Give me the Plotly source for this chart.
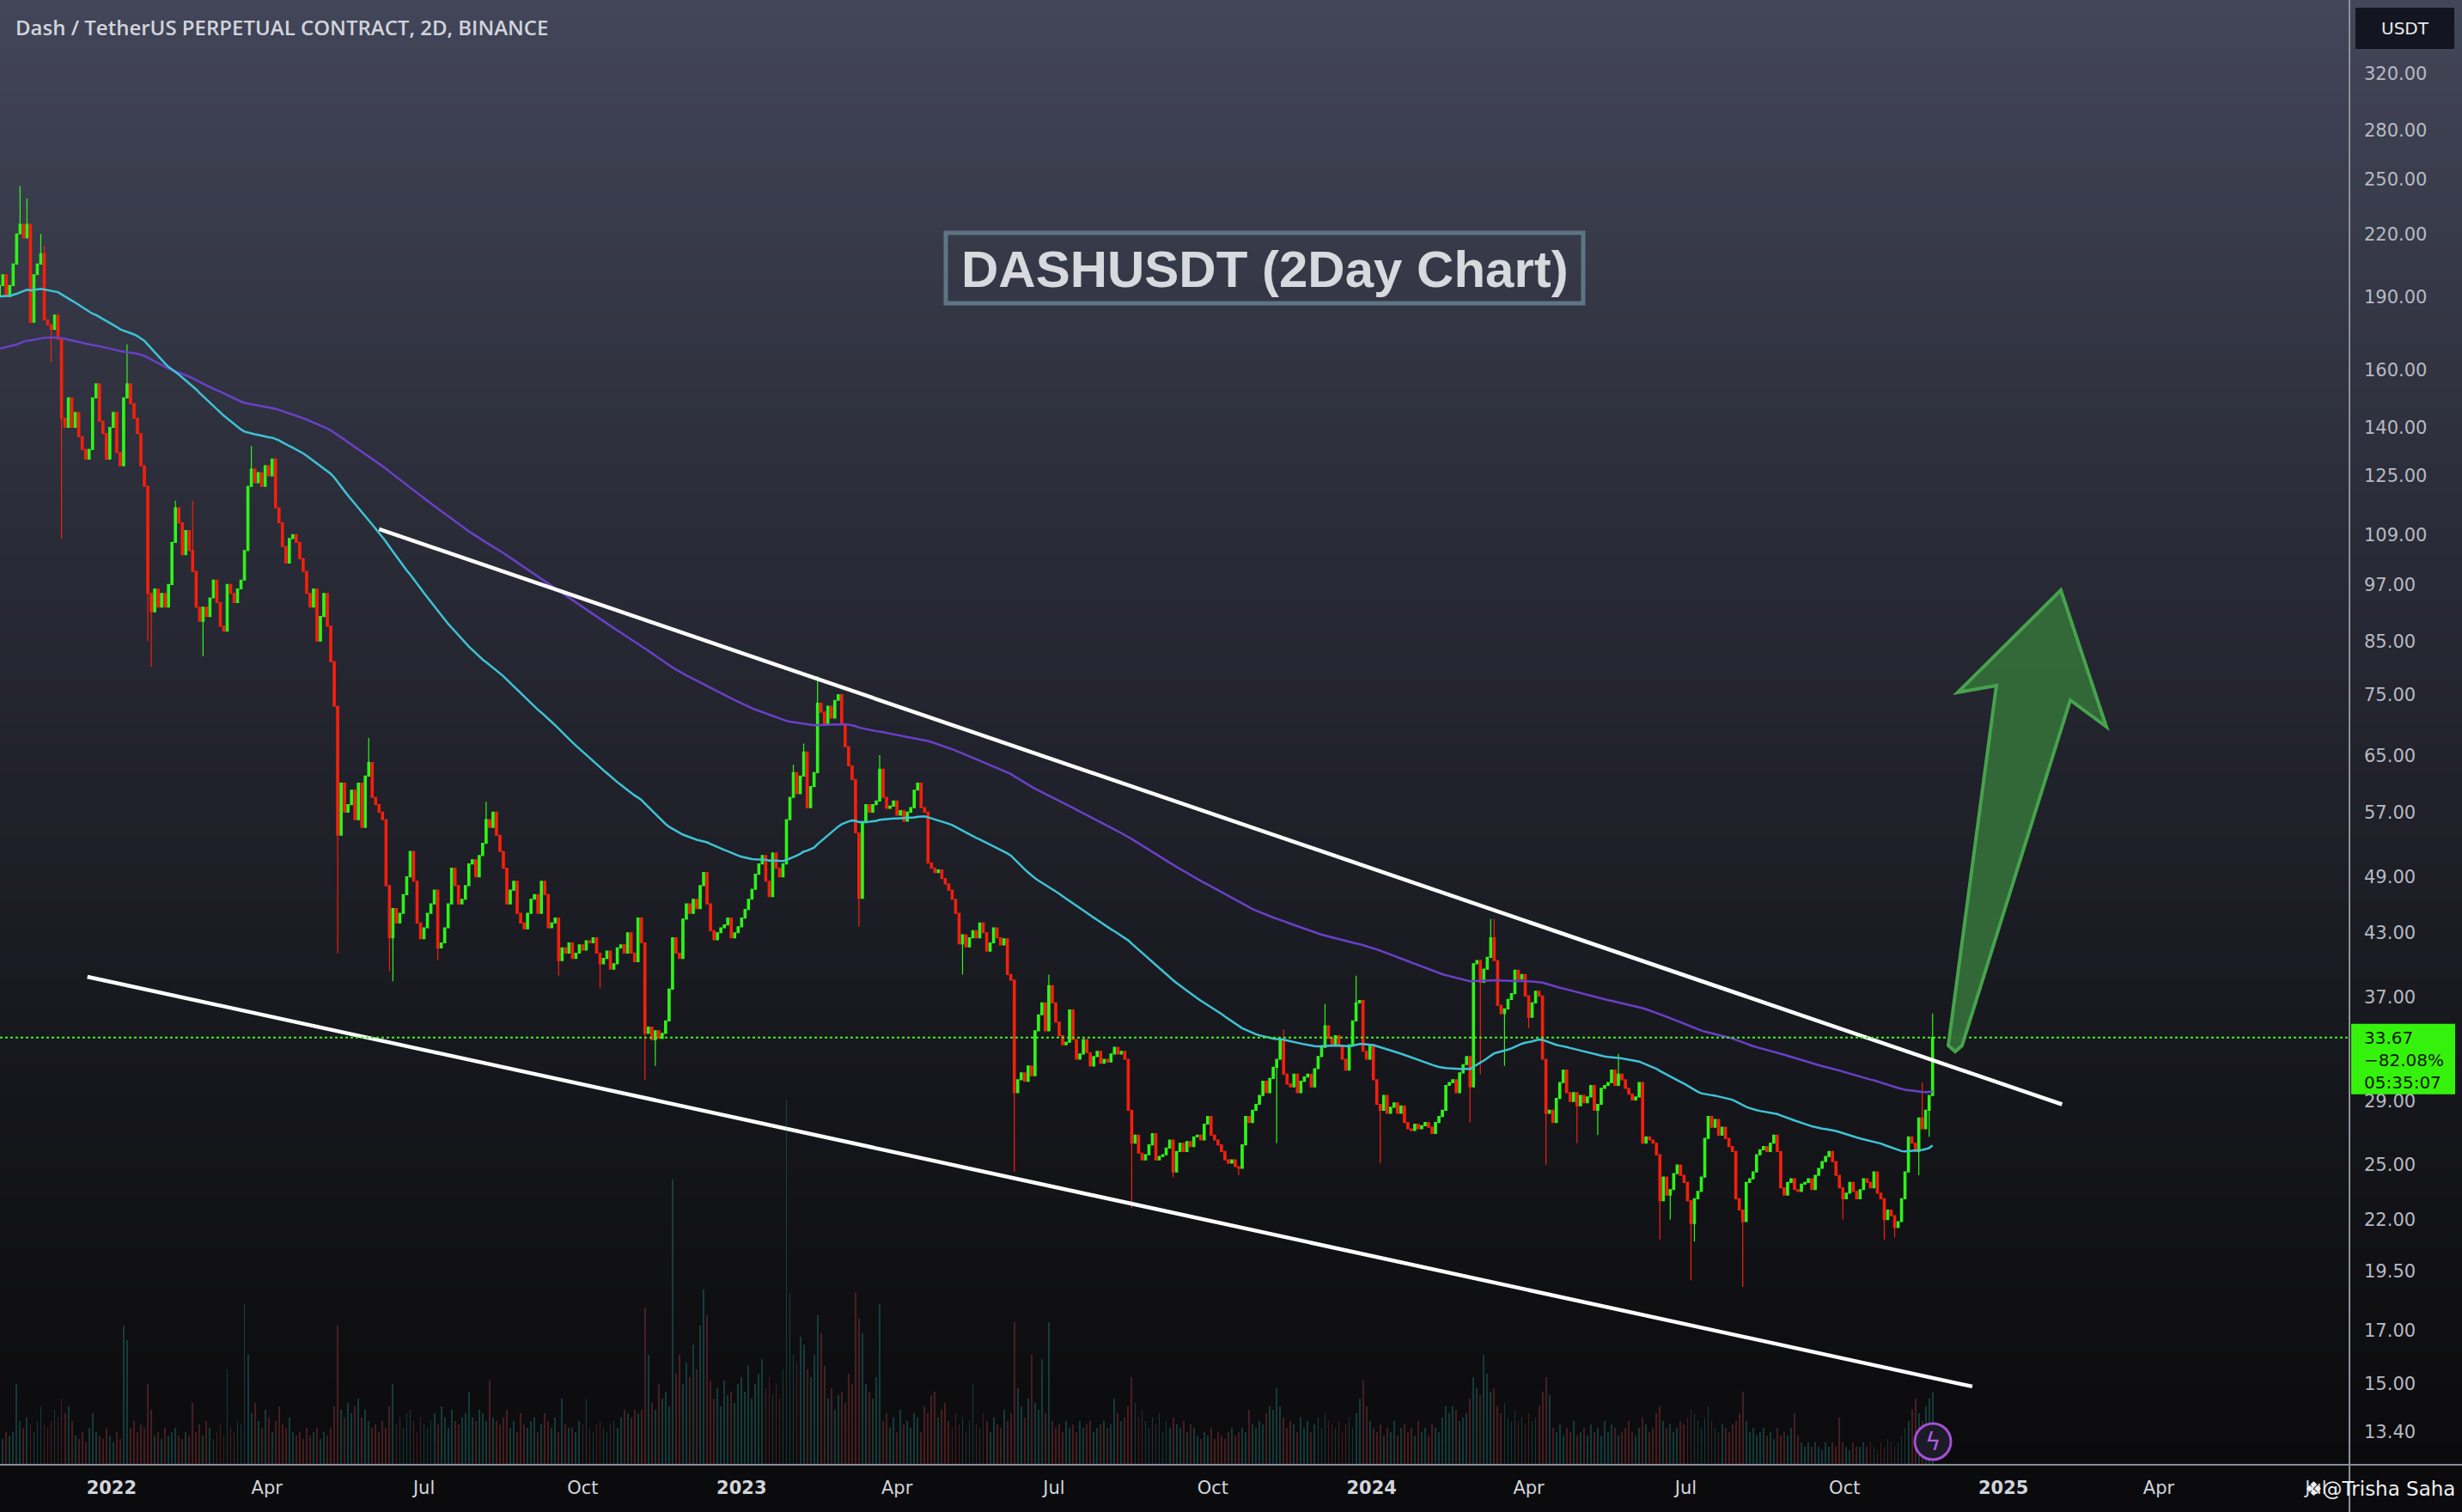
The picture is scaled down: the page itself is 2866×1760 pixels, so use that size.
import math
import plotly.graph_objects as go
import pandas as pd

# ---------------- data ----------------
START_DATE = "2021-10-28"          # first 2-day candle
FIRST_OPEN = 190.0

CLOSE = [
    195,200,190,195,205,220,225,218,225,179,200,205,210,180,178,176,182,172,143,140,
    150,140,145,137,133,130,133,150,155,142,138,130,140,145,132,128,150,155,148,143,
    138,128,122,95,91,96,92,95,92,97,107,116,112,104,110,105,100,92,89,92,
    90,94,98,93,88,87,97,95,93,96,98,105,122,127,123,126,122,128,125,130,
    116,112,106,102,108,109,107,103,100,95,92,96,85,90,95,88,81,73,54,61,
    57,58,60,56,61,55,62,64,59,58,57,56,48,42.5,45.5,44,45,47,49,52,
    48.5,44,42.4,43.5,45,46,47.5,41.5,42,43.5,46,50,48,46,46.5,48,50.5,51,49,51.5,
    53,56,55,57,54,52,50,46,47.5,48.5,45,44,43.4,45,46.5,47,45,48.5,47,43.5,
    44,44.5,40.3,41.5,41,42,40.5,41,41.8,41.3,42.2,42,42.5,41,40,40.5,41.2,39.5,40,41.5,
    41.8,41,43,41,40.2,44.5,42,34,34.5,33.5,34.2,33.6,34,35,37.7,42.5,41,40.5,44.4,46,
    45,46.5,45.5,48,49.5,46,43.2,42.3,43,43.5,43.8,44.5,42.5,43,43.6,44.5,45.4,46.5,47.6,49.3,
    50.5,51.5,48.5,46.8,51.8,50,49,50.5,56,59,62.5,59.5,62,65.6,57.6,60.5,62.5,73.5,72,70,
    73,71,74,75,70,66.4,63.5,61.5,54.3,46.6,55.6,58,57,58,58.5,63,59,57.5,57.8,58.5,
    56.6,57.2,55.8,57,57.6,60,61,57.6,57,50.6,50,49.5,49.8,48.8,48.2,47.5,46.5,45,41.9,42.8,
    41.6,42.5,43.2,42.5,44,43,41.2,42,43.5,42.5,41.8,42.4,39,38.5,29.6,30.5,31,30.4,31.5,30.8,
    34.2,35.5,36.5,34.2,38,36.5,34.9,33.8,33.1,33.3,35.9,33.5,32,32.4,33.5,32.5,31.5,32.2,32.6,31.7,
    32,31.8,32.4,32.9,32.4,32.6,32,28.4,26.3,26.8,25.7,25.3,25.6,26.2,26.9,25.3,25.5,25.6,26,26.5,
    24.6,25.8,26.3,25.8,26.4,26.1,26.7,26.8,26.5,27.5,28,26.8,26.5,26.2,25.8,25.3,25.1,25.3,24.9,24.8,
    26.2,28,27.6,28.4,28.8,29.4,30.4,29.6,30.6,31.4,32,33.5,30.9,30.2,30,30.9,29.6,30.4,30.7,30.9,
    30,31.3,32.2,32.9,34.6,33.6,33.1,33.8,33,32,31.2,33.1,35,36.5,36.7,32.6,32,33.1,30.5,28.8,
    28.4,29.4,28.2,28.6,28.9,28.2,28.7,27.6,27.2,27.1,27.5,27.2,27.4,27.6,27.3,26.9,27.6,28,28.4,30.1,
    30.3,30.5,29.6,31,31.6,32.2,30,40,40.3,38.3,39.5,40.6,42.5,40.3,36.3,35.6,36,36.8,37.3,39.4,
    38.6,39,37.1,35.3,36.5,37.5,37.1,32,28.2,28.4,27.6,29.2,30.3,31.2,29.6,29,29.6,28.7,29.4,28.9,
    29.3,30.1,28.4,28.8,29.9,30.1,30.3,31.2,30.1,30.9,30.5,29.9,29.5,29.1,29.3,30.3,26.3,26.7,26.5,26.3,
    25.6,23,24.3,23.3,23.6,24.5,25,24.4,24,23,21.8,23.1,23.5,24.3,26.6,28,27.3,27.8,26.8,27.3,
    26.6,26.1,25.8,23.1,22.5,21.9,24,24.2,24.6,25.6,25.9,26.1,25.8,26.3,26.8,25.8,23.7,23.3,24,24.2,
    23.6,23.5,23.9,24,24.2,23.6,24.4,24.8,25.2,25.5,25.8,25.2,24.4,23.7,23.1,23.4,24,23.5,23.1,23.6,
    24.2,24,23.7,24.6,23.4,23.1,22,22.5,22.2,21.6,21.9,23.1,24.6,26.7,26.3,25.8,27.9,27.2,28.4,29.4,33.67,
]

# notable wick extremes: candle index -> (high, low)
WICKS = {
    6: (246, None), 8: (239, None), 12: (220, None), 13: (214, None), 15: (None, 163),
    18: (None, 108), 37: (170, None), 43: (None, 85), 44: (None, 80), 51: (118, None),
    56: (118, None), 59: (None, 82), 73: (134, None), 98: (None, 41), 107: (67.8, None),
    113: (None, 39.3), 114: (None, 38.4), 127: (None, 40.3), 141: (58.4, None),
    162: (None, 38.9), 174: (None, 37.8), 187: (None, 30.5), 190: (None, 31.5),
    230: (63.7, None), 233: (66.9, None), 237: (78.3, None), 249: (None, 43.6),
    255: (65.1, None), 279: (None, 39.0), 294: (None, 24.6), 304: (39.0, None),
    328: (None, 22.6), 340: (None, 24.3), 359: (None, 24.4), 370: (None, 26.3),
    372: (34.3, None), 384: (36.4, None), 393: (38.9, None), 400: (None, 25.1),
    426: (None, 27.6), 429: (None, 30.9), 432: (44.4, None), 433: (44.4, None),
    436: (None, 31.5), 443: (None, 34.4), 448: (None, 25.0), 457: (None, 26.3),
    463: (None, 26.8), 469: (32.4, None), 481: (None, 21.0), 484: (None, 22.0),
    490: (None, 19.1), 491: (None, 20.9), 505: (None, 18.8), 534: (None, 22.0),
    546: (None, 21.0), 549: (None, 21.1), 556: (None, 24.4), 557: (30.3, None),
    559: (None, 26.7), 560: (35.6, None),
}

VOLUME = [
    8,7,9,8,9,22,12,10,13,11,9,12,16,11,10,12,15,13,18,14,
    16,12,8,7,9,6,10,14,9,8,7,10,8,6,9,7,38,34,10,12,
    9,11,10,22,15,8,9,7,10,8,9,10,8,7,9,8,17,9,11,8,
    12,10,7,9,11,8,26,10,9,12,11,44,30,14,17,12,10,15,13,9,
    12,16,11,10,13,9,8,9,7,10,8,9,10,7,9,8,10,16,38,15,
    13,17,14,16,18,13,15,12,10,11,9,12,10,16,22,11,13,10,14,15,
    12,9,13,11,10,12,14,11,16,13,10,15,12,11,13,14,20,13,12,15,
    14,12,23,13,12,11,13,15,10,12,9,14,11,10,12,13,9,11,14,12,
    10,13,9,18,11,10,10,9,12,11,18,10,9,11,12,10,9,11,12,10,
    13,15,14,13,15,14,15,43,30,17,15,22,18,20,16,78,25,30,22,28,
    24,33,26,38,48,41,23,18,21,16,23,19,20,17,22,24,20,27,18,22,
    25,29,21,24,19,22,18,26,100,47,30,28,35,33,26,24,30,41,36,27,
    18,21,15,19,20,17,25,22,47,40,36,22,20,18,24,44,12,14,10,13,
    9,15,11,12,10,14,13,9,16,14,19,20,13,15,17,12,10,14,11,13,
    9,12,22,11,10,14,12,9,13,11,10,15,12,14,39,21,16,13,18,30,
    17,15,29,14,39,12,10,11,9,12,10,11,9,12,10,11,12,9,10,11,
    12,10,11,18,14,12,13,16,24,17,13,15,12,10,13,11,14,9,12,10,
    13,11,10,12,9,11,10,8,7,9,8,10,7,9,8,7,9,10,8,9,
    10,9,15,11,10,12,11,14,16,15,21,16,13,10,12,11,9,13,10,12,
    9,11,13,10,14,12,11,10,12,9,11,13,10,14,18,23,16,12,10,9,
    11,8,10,9,12,8,10,11,9,10,8,12,9,10,8,11,10,9,13,16,
    14,16,15,12,13,14,18,24,21,19,30,25,20,21,16,14,17,13,12,15,
    12,13,11,14,12,13,16,20,24,19,10,9,11,8,10,9,12,8,9,10,
    8,11,9,10,8,12,9,11,10,8,9,10,12,9,8,10,13,11,9,10,
    14,16,12,10,11,9,10,12,11,13,15,14,12,10,13,16,12,10,9,11,
    10,9,11,12,14,20,12,9,10,8,9,10,8,9,7,10,8,9,8,10,
    14,8,6,5,6,5,6,5,4,6,5,6,5,13,6,5,4,6,5,5,
    6,5,6,5,4,6,5,7,6,5,6,8,10,12,15,18,14,12,16,18,20,
]

EMA_FAST_LEN, EMA_FAST_SEED = 100, 190.0
EMA_SLOW_LEN, EMA_SLOW_SEED = 200, 168.0

LAST_PRICE = 33.67
LAST_CHANGE = "\u221282.08%"
COUNTDOWN = "05:35:07"

UPPER_LINE_DATES = ["2022-06-05", "2025-02-04"]
UPPER_LINE_PRICES = [110.4, 28.8]
LOWER_LINE_DATES = ["2021-12-18", "2024-12-14"]
LOWER_LINE_PRICES = [38.8, 14.9]

Y_TICKS = [320, 280, 250, 220, 190, 160, 140, 125, 109, 97, 85, 75, 65, 57, 49, 43, 37,
           29, 25, 22, 19.5, 17, 15, 13.4]
X_TICK_DATES = ["2022-01-01", "2022-04-01", "2022-07-01", "2022-10-01",
                "2023-01-01", "2023-04-01", "2023-07-01", "2023-10-01",
                "2024-01-01", "2024-04-01", "2024-07-01", "2024-10-01",
                "2025-01-01", "2025-04-01", "2025-07-01"]
X_TICK_LABELS = ["<b>2022</b>", "Apr", "Jul", "Oct", "<b>2023</b>", "Apr", "Jul", "Oct",
                 "<b>2024</b>", "Apr", "Jul", "Oct", "<b>2025</b>", "Apr", "Jul"]

TITLE = "Dash / TetherUS PERPETUAL CONTRACT, 2D, BINANCE"
BOX_TITLE = "DASHUSDT (2Day Chart)"
AUTHOR = "\u2756@Trisha Saha"

if not (len(CLOSE) == len(VOLUME)):
    raise SystemExit(f"length mismatch close={len(CLOSE)} volume={len(VOLUME)}")

# ---------------- derived series ----------------
dates = pd.date_range(START_DATE, periods=len(CLOSE), freq="2D")
opens = [FIRST_OPEN] + CLOSE[:-1]
highs = [max(o, c) for o, c in zip(opens, CLOSE)]
lows = [min(o, c) for o, c in zip(opens, CLOSE)]
for k, (h, l) in WICKS.items():
    if h is not None:
        highs[k] = max(highs[k], h)
    if l is not None:
        lows[k] = min(lows[k], l)


def ema(values, length, seed):
    a = 2.0 / (length + 1)
    out, e = [], seed
    for v in values:
        e = a * v + (1 - a) * e
        out.append(e)
    return out


ema_fast = ema(CLOSE, EMA_FAST_LEN, EMA_FAST_SEED)
ema_slow = ema(CLOSE, EMA_SLOW_LEN, EMA_SLOW_SEED)

# ---------------- layout geometry (pixels) ----------------
W, H = 2866, 1760
PLOT_W, PLOT_H = 2735, 1705
Y_LO, Y_HI = 1.0938, 2.5797          # log10 price range
X_RANGE = ["2021-10-28 09:00", "2025-07-20 12:00"]


def px(x):
    return x / PLOT_W


def py(y):
    return 1 - y / PLOT_H


price_y_paper = (math.log10(LAST_PRICE) - Y_LO) / (Y_HI - Y_LO)
price_y_px = (1 - price_y_paper) * PLOT_H

GREEN = "#2ff51a"
RED = "#f5200c"

fig = go.Figure()

# volume
vol_colors = ["rgba(38,166,154,0.30)" if c >= o else "rgba(239,83,80,0.26)"
              for o, c in zip(opens, CLOSE)]
fig.add_trace(go.Bar(x=dates, y=VOLUME, yaxis="y2", marker_color=vol_colors,
                     marker_line_width=0, width=2 * 86400000 * 0.45,
                     hoverinfo="skip", showlegend=False))

# moving averages
fig.add_trace(go.Scatter(x=dates, y=ema_slow, mode="lines",
                         line=dict(color="#6a40c8", width=2.5), hoverinfo="skip",
                         showlegend=False))
fig.add_trace(go.Scatter(x=dates, y=ema_fast, mode="lines",
                         line=dict(color="#3ec3d6", width=2.5), hoverinfo="skip",
                         showlegend=False))

# candles
fig.add_trace(go.Candlestick(
    x=dates, open=opens, high=highs, low=lows, close=CLOSE,
    increasing=dict(line=dict(color=GREEN, width=1.2), fillcolor=GREEN),
    decreasing=dict(line=dict(color=RED, width=1.2), fillcolor=RED),
    whiskerwidth=0, showlegend=False, hoverinfo="skip"))

# trend lines
fig.add_trace(go.Scatter(x=UPPER_LINE_DATES, y=UPPER_LINE_PRICES, mode="lines",
                         line=dict(color="#ffffff", width=4.5), hoverinfo="skip",
                         showlegend=False))
fig.add_trace(go.Scatter(x=LOWER_LINE_DATES, y=LOWER_LINE_PRICES, mode="lines",
                         line=dict(color="#ffffff", width=4.5), hoverinfo="skip",
                         showlegend=False))

# last price dotted line
fig.add_trace(go.Scatter(x=X_RANGE, y=[LAST_PRICE, LAST_PRICE], mode="lines",
                         line=dict(color="#3cf51a", width=2, dash="dot"),
                         hoverinfo="skip", showlegend=False))

shapes = []
# background gradient bands
stops = [(0, (67, 70, 88)), (600, (42, 44, 56)), (1180, (24, 25, 31)), (1705, (11, 11, 13))]


def col_at(y):
    for (y0, c0), (y1, c1) in zip(stops[:-1], stops[1:]):
        if y0 <= y <= y1:
            t = (y - y0) / (y1 - y0)
            return "rgb(%d,%d,%d)" % tuple(round(a + (b - a) * t) for a, b in zip(c0, c1))
    return "rgb(11,11,13)"


band = 15
for y0 in range(0, PLOT_H, band):
    y1 = min(y0 + band + 1, PLOT_H)
    shapes.append(dict(type="rect", xref="paper", yref="paper", x0=0, x1=px(W),
                       y0=py(y1), y1=py(y0), fillcolor=col_at(y0 + band / 2),
                       line=dict(width=0), layer="below"))

# axis separator lines
shapes.append(dict(type="line", xref="paper", yref="paper", x0=px(2735), x1=px(2735),
                   y0=py(H), y1=py(0), line=dict(color="#8d9099", width=2)))
shapes.append(dict(type="line", xref="paper", yref="paper", x0=0, x1=px(W),
                   y0=py(1705), y1=py(1705), line=dict(color="#8d9099", width=2)))

# title box border
shapes.append(dict(type="rect", xref="paper", yref="paper", x0=px(1101), x1=px(1843),
                   y0=py(353), y1=py(271), line=dict(color="#5e7585", width=5),
                   fillcolor="rgba(0,0,0,0)"))

# arrow
arrow_pts = [(2399, 687), (2452, 846), (2410, 815), (2284, 1217), (2276, 1224),
             (2268, 1217), (2324, 798), (2279, 806)]
path = "M " + " L ".join(f"{px(x):.5f},{py(y):.5f}" for x, y in arrow_pts) + " Z"
shapes.append(dict(type="path", xref="paper", yref="paper", path=path,
                   fillcolor="rgba(52,110,58,0.92)", line=dict(color="#46a34c", width=4)))

# last price label box
shapes.append(dict(type="rect", xref="paper", yref="paper", x0=px(2737), x1=px(2858),
                   y0=py(price_y_px + 66), y1=py(price_y_px - 16),
                   fillcolor="#35f20c", line=dict(width=0)))
# USDT box
shapes.append(dict(type="rect", xref="paper", yref="paper", x0=px(2742), x1=px(2857),
                   y0=py(57), y1=py(9), fillcolor="#131620", line=dict(width=0)))
# lightning badge
shapes.append(dict(type="circle", xref="paper", yref="paper", x0=px(2229), x1=px(2271),
                   y0=py(1699), y1=py(1657), fillcolor="#1b1c28",
                   line=dict(color="#a64fd6", width=3)))

annotations = [
    dict(text=TITLE, xref="paper", yref="paper", x=px(16), y=py(31), xanchor="left",
         yanchor="middle", showarrow=False,
         font=dict(family="Open Sans", size=24, color="#d1d4dc", weight=600)),
    dict(text=BOX_TITLE, xref="paper", yref="paper", x=px(1472), y=py(313),
         xanchor="center", yanchor="middle", showarrow=False,
         font=dict(family="Liberation Sans", size=60, color="#d8d9de", weight="bold")),
    dict(text="USDT", xref="paper", yref="paper", x=px(2800), y=py(33), xanchor="center",
         yanchor="middle", showarrow=False,
         font=dict(family="DejaVu Sans", size=20, color="#e8e9ee")),
    dict(text=f"{LAST_PRICE:.2f}<br>{LAST_CHANGE}<br>{COUNTDOWN}", xref="paper",
         yref="paper", x=px(2750), y=py(price_y_px - 14), xanchor="left", yanchor="top",
         align="left", showarrow=False,
         font=dict(family="DejaVu Sans", size=20, color="#0d1a08")),
    dict(text="\u03df", xref="paper", yref="paper", x=px(2250), y=py(1678),
         xanchor="center", yanchor="middle", showarrow=False,
         font=dict(family="DejaVu Sans", size=28, color="#b35ce0")),
    dict(text=AUTHOR, xref="paper", yref="paper", x=px(2860), y=py(1733), xanchor="right",
         yanchor="middle", showarrow=False, bgcolor="rgba(0,0,0,0)",
         font=dict(family="DejaVu Sans", size=23, color="#f0f0f0")),
]

fig.update_layout(
    width=W, height=H,
    margin=dict(l=0, r=W - PLOT_W, t=0, b=H - PLOT_H, pad=0, autoexpand=False),
    paper_bgcolor="#0b0b0d", plot_bgcolor="rgba(0,0,0,0)",
    showlegend=False, boxgap=0.25, boxgroupgap=0.2, bargap=0,
    shapes=shapes, annotations=annotations,
    xaxis=dict(type="date", range=X_RANGE, showgrid=False, zeroline=False, showline=False,
               rangeslider=dict(visible=False), tickvals=X_TICK_DATES, ticktext=X_TICK_LABELS,
               ticks="", ticklabelstandoff=12,
               tickfont=dict(family="DejaVu Sans", size=21, color="#d1d4dc")),
    yaxis=dict(type="log", range=[Y_LO, Y_HI], side="right", showgrid=False, zeroline=False,
               showline=False, tickvals=Y_TICKS, ticktext=[f"{v:.2f}" for v in Y_TICKS],
               ticks="", ticklabelstandoff=16,
               tickfont=dict(family="DejaVu Sans", size=21, color="#b7bac2")),
    yaxis2=dict(overlaying="y", range=[0, 401], visible=False, fixedrange=True),
)

fig.write_html("out.html", include_plotlyjs=True, config={"displayModeBar": False},
               post_script="document.body.style.margin='0';document.body.style.overflow='hidden';")
